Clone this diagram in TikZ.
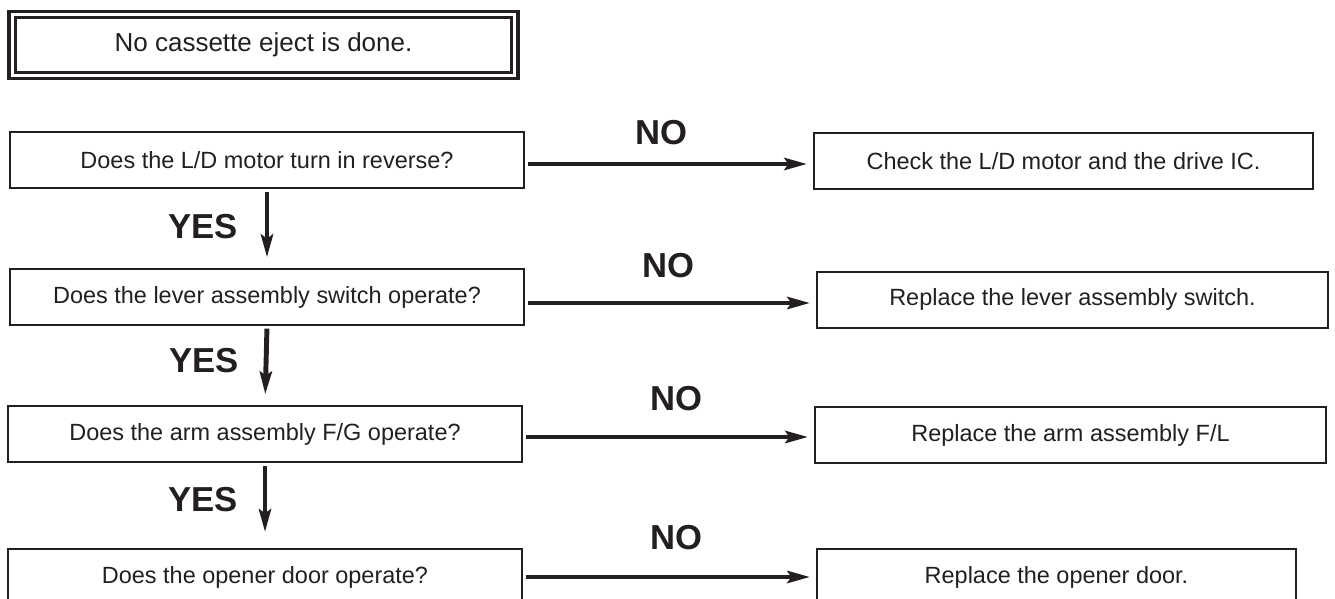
\documentclass[tikz,border=0pt]{standalone}
\usepackage{fontspec}
\setmainfont{Liberation Sans}
\usetikzlibrary{arrows.meta}
\definecolor{ink}{HTML}{231F20}

\begin{document}
\begin{tikzpicture}[x=0.75pt,y=-0.75pt,>={Stealth[length=17pt,width=9pt,inset=3pt]},
  every node/.style={font=\fontsize{17.6}{21}\selectfont,text=ink,inner sep=0pt},
  qbox/.style={draw=ink,line width=1.5pt,minimum width=385pt,minimum height=42pt},
  abox/.style={draw=ink,line width=1.5pt,minimum height=42pt},
  lbl/.style={font=\fontsize{26}{30}\selectfont\bfseries},
  conn/.style={->,draw=ink,line width=3.7pt}]
\useasboundingbox (0,0) rectangle (1335,599);
\clip (0,0) rectangle (1335,599);
\node[draw=ink,double,line width=2.6pt,double distance=2.25pt,minimum width=377pt,minimum height=45.75pt,font=\fontsize{19.5}{23}\selectfont] (start) at (263.5,45) {No cassette eject is done.};

\node[qbox] (q1) at (267,160) {Does the L/D motor turn in reverse?};
\node[qbox] (q2) at (267,297) {Does the lever assembly switch operate?};
\node[qbox] (q3) at (265,434) {Does the arm assembly F/G operate?};
\node[qbox] (q4) at (265,577) {Does the opener door operate?};

\node[abox,minimum width=374pt] (a1) at (1063.5,161.5) {Check the L/D motor and the drive IC.};
\node[abox,minimum width=383pt] (a2) at (1072.5,299.5) {Replace the lever assembly switch.};
\node[abox,minimum width=383pt] (a3) at (1070.5,435) {Replace the arm assembly F/L};
\node[abox,minimum width=359pt] (a4) at (1056.5,577) {Replace the opener door.};

\draw[conn,shorten <=2.5pt,shorten >=4.5pt] ([yshift=-3pt]q1.east) -- ([yshift=-3pt]q1.east -| a1.west);
\draw[conn,shorten <=2.5pt,shorten >=4.5pt] ([yshift=-4.5pt]q2.east) -- ([yshift=-4.5pt]q2.east -| a2.west);
\draw[conn,shorten <=2.5pt,shorten >=4.5pt] ([yshift=-2.25pt]q3.east) -- ([yshift=-2.25pt]q3.east -| a3.west);
\draw[conn,shorten <=2.5pt,shorten >=4.5pt] (q4.east) -- (q4.east -| a4.west);

\draw[conn,shorten <=2pt,shorten >=8pt] (q1.south) -- (q2.north);
\draw[conn,shorten <=2pt,shorten >=8pt] (q2.south) -- (q3.north);
\draw[conn,shorten <=2pt,shorten >=12pt] (q3.south) -- (q4.north);

\node[lbl] (no1) at (661,133) {NO};
\node[lbl] (no2) at (668,266) {NO};
\node[lbl] (no3) at (676,399) {NO};
\node[lbl] (no4) at (676,538) {NO};
\node[lbl] (yes1) at (203,227) {YES};
\node[lbl] (yes2) at (204,361) {YES};
\node[lbl] (yes3) at (203,500) {YES};
\end{tikzpicture}
\end{document}
